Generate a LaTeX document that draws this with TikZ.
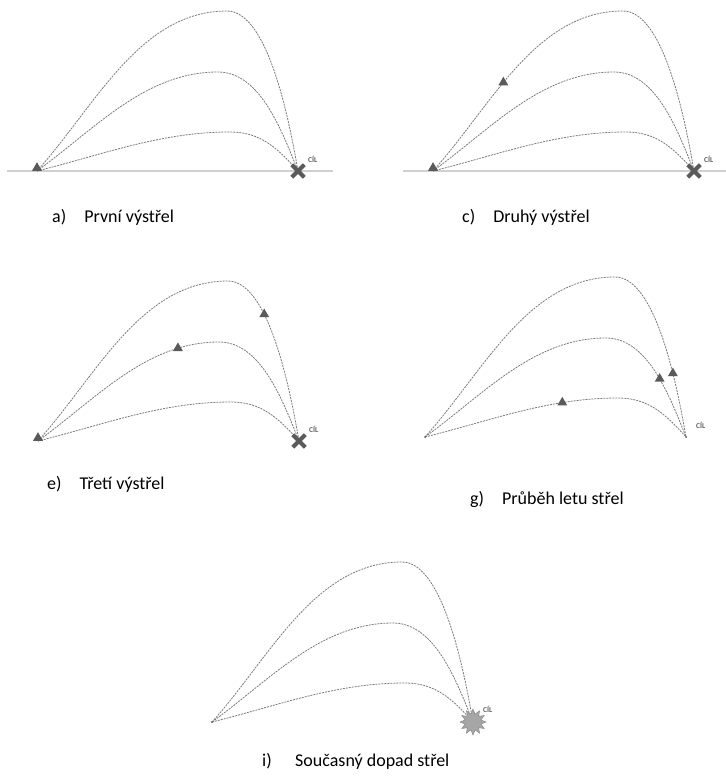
\documentclass[tikz,border=0pt]{standalone}
\usepackage{fontspec}
\setmainfont{Carlito}
\usetikzlibrary{shapes.geometric,shapes.misc,positioning}
\definecolor{pathgray}{HTML}{7A7A7A}
\definecolor{shellgray}{HTML}{5A5A5A}
\definecolor{groundgray}{HTML}{D0D0D0}
\definecolor{cilgray}{HTML}{606060}
\definecolor{blastgray}{HTML}{A6A6A6}

\tikzset{
  traj/.style={pathgray, dash pattern=on 2pt off 1pt, line width=0.8pt},
  ground/.style={groundgray, line width=1.4pt},
  shell/.style={regular polygon, regular polygon sides=3, fill=shellgray, inner sep=0pt, minimum size=11.5pt},
  hit/.style={cross out, draw=shellgray, line width=4pt, minimum size=8.5pt, inner sep=0pt},
  blast/.style={star, star points=12, star point ratio=1.6, fill=blastgray, draw=gray, line width=0.4pt, minimum size=26pt, inner sep=0pt},
  cil/.style={font=\bfseries\fontsize{7.5}{8}\selectfont, text=cilgray, inner sep=0pt},
  caption/.style={font=\fontsize{18}{20}\selectfont, text=black, anchor=base west, inner sep=0pt},
  hiup/.style={out=48, in=180, looseness=0.9},
  hidown/.style={out=0, in=100, looseness=0.62},
  midup/.style={out=36, in=180, looseness=0.9},
  middown/.style={out=0, in=112, looseness=0.85},
  loup/.style={out=14, in=180, looseness=0.9},
  lodown/.style={out=0, in=132},
}

% three trajectories of one salvo, from gun#1 to cil#1
\newcommand{\salvo}[1]{%
  \coordinate (gun#1) at (0,0);
  \coordinate (cil#1) at (261,0);
  \coordinate (hi#1) at (190,160);
  \coordinate (mid#1) at (181,99);
  \coordinate (lo#1) at (193,39);
  \draw[traj] (gun#1) to[hiup] (hi#1) to[hidown] (cil#1);
  \draw[traj] (gun#1) to[midup] (mid#1) to[middown] (cil#1);
  \draw[traj] (gun#1) to[loup] (lo#1) to[lodown] (cil#1);
}

\begin{document}
\begin{tikzpicture}[x=1pt,y=1pt]
\useasboundingbox (0,0) rectangle (725,-778);

% a) first shot
\begin{scope}[shift={(37,-171)}]
  \draw[ground] (-30,0) -- (296,0);
  \salvo{A}
  \node[shell, above=0pt of gunA] (shellA) {};
  \node[hit] (xA) at (cilA) {};
  \node[cil, above right=8pt and 10pt of cilA] (cilTxtA) {CÍL};
\end{scope}
\node[caption] (capA) at (52,-222) {a)\hspace{1em}První výstřel};

% c) second shot
\begin{scope}[shift={(433,-171)}]
  \draw[ground] (-30,0) -- (296,0);
  \salvo{C}
  \node[shell, above=0pt of gunC] (shellC) {};
  \path (gunC) to[hiup] node[shell, pos=0.42] (shellC1) {} (hiC);
  \node[hit] (xC) at (cilC) {};
  \node[cil, above right=8pt and 10pt of cilC] (cilTxtC) {CÍL};
\end{scope}
\node[caption] (capC) at (462,-222) {c)\hspace{1em}Druhý výstřel};

% e) third shot
\begin{scope}[shift={(38,-441)}]
  \salvo{E}
  \node[shell, above=0pt of gunE] (shellE) {};
  \path (hiE) to[hidown] node[shell, pos=0.34] (shellE1) {} (cilE);
  \path (gunE) to[midup] node[shell, pos=0.8] (shellE2) {} (midE);
  \node[hit] (xE) at (cilE) {};
  \node[cil, above right=8pt and 10pt of cilE] (cilTxtE) {CÍL};
\end{scope}
\node[caption] (capE) at (47,-489) {e)\hspace{1em}Třetí výstřel};

% g) shells in flight
\begin{scope}[shift={(425,-437)}]
  \salvo{G}
  \fill[shellgray] (gunG) circle (1pt);
  \fill[shellgray] (cilG) circle (1pt);
  \path (hiG) to[hidown] node[shell, pos=0.65] (shellG1) {} (cilG);
  \path (midG) to[middown] node[shell, pos=0.55] (shellG2) {} (cilG);
  \path (gunG) to[loup] node[shell, pos=0.72] (shellG3) {} (loG);
  \node[cil, above right=8pt and 10pt of cilG] (cilTxtG) {CÍL};
\end{scope}
\node[caption] (capG) at (470,-504) {g)\hspace{1em}Průběh letu střel};

% i) simultaneous impact
\begin{scope}[shift={(212,-722)}]
  \salvo{I}
  \fill[shellgray] (gunI) circle (1pt);
  \node[blast] (boomI) at (cilI) {};
  \node[cil, above right=9pt and 10pt of cilI] (cilTxtI) {CÍL};
\end{scope}
\node[caption] (capI) at (262,-766) {i)\hspace{1.3em}Současný dopad střel};

\end{tikzpicture}
\end{document}
